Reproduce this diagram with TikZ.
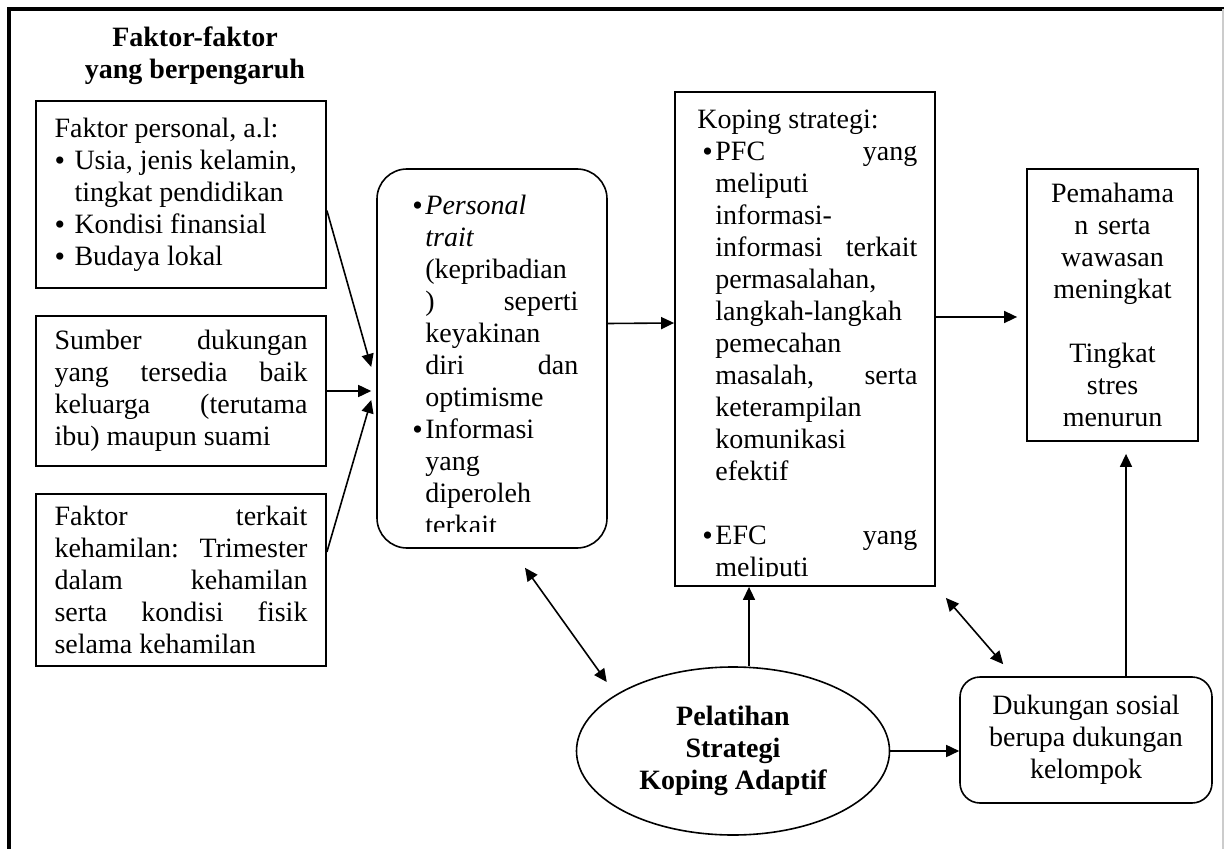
\documentclass[tikz,border=0pt]{standalone}
\usepackage{fontspec}
\setmainfont{Liberation Serif}
\usepackage{tikz}
\usetikzlibrary{arrows.meta,calc,positioning,shapes.geometric}
\setlength{\parindent}{0pt}
\newcommand{\bul}[1]{\makebox[#1][l]{\raisebox{-0.1ex}{\fontsize{15}{14}\selectfont\textbullet}}}

\begin{document}
\begin{tikzpicture}[
  x=0.5pt,y=-0.5pt,
  font=\fontsize{14}{16}\selectfont,
  frame/.style={line width=1.8pt},
  heading/.style={font=\fontsize{14}{16}\selectfont\bfseries,align=center},
  factor/.style={draw,line width=0.9pt,text width=126.5pt,inner xsep=9.25pt,inner ysep=0pt,align=justify},
  plainbox/.style={draw,line width=0.9pt},
  softbox/.style={draw,line width=0.8pt,rounded corners=15pt},
  cliptext/.style={anchor=north west,inner sep=0pt,align=justify},
  link/.style={-{Triangle[length=6.5pt,width=6pt]},line width=0.8pt},
  twoway/.style={{Triangle[length=6.5pt,width=6pt]}-{Triangle[length=6.5pt,width=6pt]},line width=0.8pt}
]
\useasboundingbox (0,0) rectangle (1224,849);
\draw[frame] (9,849) -- (9,9) -- (1224,9);
\draw[gray!40,line width=0.6pt] (1223,9) -- (1223,849);

\node[heading] (judul) at (195,56) {Faktor-faktor\\yang berpengaruh};

\node[factor,minimum height=93.5pt] (faktor1) at (181,194.5)
  {Faktor personal, a.l:\\
   \bul{10pt}Usia, jenis kelamin,\\
   \hspace*{10pt}tingkat pendidikan\\
   \bul{10pt}Kondisi finansial\\
   \bul{10pt}Budaya lokal};
\node[factor,minimum height=75pt] (faktor2) at (181,391)
  {Sumber\hfill dukungan\\
   yang\hfill tersedia\hfill baik\\
   keluarga\hfill (terutama\\
   ibu) maupun suami};
\node[factor,minimum height=86pt] (faktor3) at (181,580)
  {Faktor\hfill terkait\\
   kehamilan:\hfill Trimester\\
   dalam\hfill kehamilan\\
   serta\hfill kondisi\hfill fisik\\
   selama kehamilan};

\node[softbox,minimum width=115pt,minimum height=189.5pt] (trait) at (492,358.5) {};
\begin{scope}
  \clip (377,169) rectangle (607,531);
  \node[cliptext,text width=83pt] (traittext) at (412,194.5)
    {\bul{6.5pt}\textit{Personal}\\
     \hspace*{6.5pt}\textit{trait}\\
     \hspace*{6.5pt}(kepribadian\\
     \hspace*{6.5pt})\hfill seperti\\
     \hspace*{6.5pt}keyakinan\\
     \hspace*{6.5pt}diri\hfill dan\\
     \hspace*{6.5pt}optimisme\\
     \bul{6.5pt}Informasi\\
     \hspace*{6.5pt}yang\\
     \hspace*{6.5pt}diperoleh\\
     \hspace*{6.5pt}terkait};
\end{scope}

\node[plainbox,minimum width=130pt,minimum height=247pt] (koping) at (805,339) {};
\begin{scope}
  \clip (675,92) rectangle (935,576);
  \node[cliptext,text width=110pt] (kopingtext) at (697,109.5)
    {Koping strategi:\\
     \hspace*{2.5pt}\bul{6.5pt}PFC\hfill yang\\
     \hspace*{9pt}meliputi\\
     \hspace*{9pt}informasi-\\
     \hspace*{9pt}informasi\hfill terkait\\
     \hspace*{9pt}permasalahan,\\
     \hspace*{9pt}langkah-langkah\\
     \hspace*{9pt}pemecahan\\
     \hspace*{9pt}masalah,\hfill serta\\
     \hspace*{9pt}keterampilan\\
     \hspace*{9pt}komunikasi\\
     \hspace*{9pt}efektif\\[16pt]
     \hspace*{2.5pt}\bul{6.5pt}EFC\hfill yang\\
     \hspace*{9pt}meliputi};
\end{scope}

\node[plainbox,align=center,text width=75pt,inner xsep=5.25pt,minimum height=136pt] (hasil) at (1112.5,305)
  {Pemahama\\n serta\\wawasan\\meningkat\\[16pt]Tingkat\\stres\\menurun};

\node[ellipse,draw,line width=0.8pt,minimum width=156.5pt,minimum height=84pt,inner sep=0pt,heading] (pelatihan) at (733,751)
  {Pelatihan\\Strategi\\Koping Adaptif};
\node[softbox,rounded corners=10pt,align=center,minimum width=126pt,minimum height=63pt] (dukungan) at (1086,740)
  {Dukungan sosial\\berupa dukungan\\kelompok};

\draw[link] ($(faktor1.east)+(0,16)$) -- ($(trait.west)+(-5,8.5)$);
\draw[link] (faktor2.east) -- ($(trait.west)+(-5,32.5)$);
\draw[link] ($(faktor3.east)+(0,-28)$) -- ($(trait.west)+(-5,41.5)$);
\draw[link] ($(trait.east)+(0,-35)$) -- ($(koping.west)+(0,-16)$);
\draw[link] ($(koping.east)+(0,-22)$) -- ($(hasil.west)+(-9,12)$);
\coordinate (naik) at ($(pelatihan.north)+(16,0)$);
\draw[link] (naik) -- (naik |- koping.south);
\draw[twoway] ($(trait.south)+(33,19)$) -- ($(pelatihan.north west)+(-15,-9)$);
\draw[twoway] ($(koping.south east)+(10,11)$) -- ($(dukungan.north west)+(44,-12)$);
\draw[link] (pelatihan.east) -- (pelatihan.east -| dukungan.west);
\coordinate (dukatas) at ($(dukungan.north)+(40,0)$);
\draw[link,shorten >=6pt] (dukatas) -- (dukatas |- hasil.south);
\end{tikzpicture}
\end{document}
